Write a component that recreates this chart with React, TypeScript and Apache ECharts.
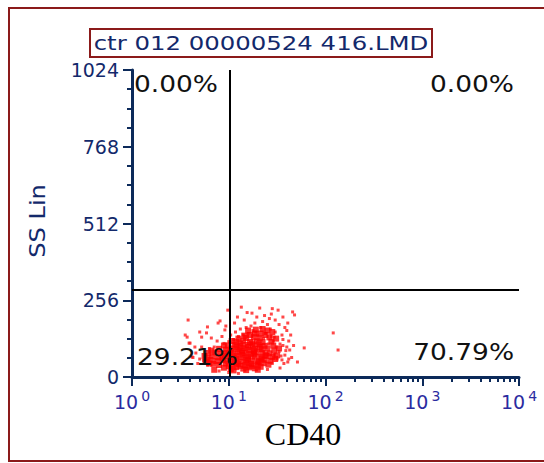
import React, { useEffect, useRef } from "react";
import * as echarts from "echarts";

const titleText = "ctr 012 00000524 416.LMD";
const xAxisTitle = "CD40";
const yAxisTitle = "SS Lin";
const xDecades = [0, 1, 2, 3, 4];
const yTicks = [0, 256, 512, 768, 1024];
const quadrantX = 1.01; // log10(CD40) of the vertical gate
const quadrantY = 290; // SS Lin of the horizontal gate
const quadrantUL = "0.00%";
const quadrantUR = "0.00%";
const quadrantLL = "29.21%";
const quadrantLR = "70.79%";

// events: [log10(CD40), SS Lin]
const corePoints: number[][] = [
  [0.85, 24], [1.05, 22], [1.18, 23], [1.3, 24],
  [0.95, 31], [1.02, 27], [1.08, 33], [1.15, 28], [1.21, 32], [1.27, 29], [1.33, 34],
  [0.84, 44], [0.9, 40], [0.97, 45], [1.04, 41], [1.1, 43], [1.17, 39], [1.23, 44], [1.3, 42], [1.36, 46], [1.41, 41],
  [0.81, 57], [0.87, 53], [0.93, 56], [0.99, 54], [1.05, 58], [1.12, 52], [1.18, 56], [1.24, 55], [1.31, 53], [1.37, 57], [1.43, 54],
  [0.83, 69], [0.89, 66], [0.96, 70], [1.02, 67], [1.08, 71], [1.14, 65], [1.2, 69], [1.27, 68], [1.33, 66], [1.39, 70], [1.45, 67],
  [0.86, 82], [0.92, 78], [0.98, 81], [1.05, 79], [1.11, 83], [1.17, 80], [1.23, 78], [1.29, 82], [1.35, 81], [1.42, 79],
  [0.9, 94], [0.97, 91], [1.03, 95], [1.09, 92], [1.15, 96], [1.21, 90], [1.27, 94], [1.34, 93], [1.4, 95],
  [0.99, 105], [1.06, 108], [1.12, 104], [1.18, 107], [1.25, 106], [1.31, 109], [1.37, 104],
  [1.08, 118], [1.15, 121], [1.22, 117], [1.29, 119], [1.35, 116],
  [1.18, 130], [1.26, 133], [1.32, 129],
  [1.0, 36], [1.12, 37], [1.24, 37], [1.06, 49], [1.18, 48], [1.3, 49], [0.94, 62], [1.08, 62], [1.2, 61], [1.34, 61],
  [1.0, 75], [1.14, 74], [1.26, 75], [1.38, 74], [1.02, 87], [1.14, 87], [1.26, 87], [1.08, 100], [1.2, 100], [1.32, 100],
  [1.12, 112], [1.24, 112],
  [0.76, 50], [0.78, 62], [0.75, 70], [0.79, 80], [0.82, 88], [0.8, 45],
  [1.48, 60], [1.5, 72], [1.47, 88], [1.52, 95], [1.46, 105], [1.44, 118], [1.49, 128], [1.42, 132], [1.38, 140],
  [1.45, 150], [1.33, 145], [1.27, 145], [1.4, 155], [1.22, 140],
  [1.03, 120], [0.95, 105], [1.1, 128], [1.16, 138], [1.28, 158], [1.35, 160], [1.2, 155],
];

const sparsePoints: number[][] = [
  [0.58, 190], [0.55, 140], [0.59, 113], [0.72, 133], [0.7, 150], [0.77, 147], [0.78, 167], [0.89, 180], [0.91, 187],
  [0.96, 157], [0.99, 223], [1.13, 233], [1.24, 213], [1.29, 200], [1.16, 190], [1.06, 180], [1.27, 180], [1.32, 230],
  [1.51, 223], [1.56, 200], [1.66, 217], [1.68, 207], [1.61, 180], [1.64, 140], [1.63, 90], [1.58, 73], [1.71, 50],
  [1.78, 97], [2.08, 147], [2.13, 90], [1.61, 50], [1.55, 57], [1.47, 133], [0.57, 133], [0.6, 113], [0.65, 100],
  [0.62, 67],
  [1.28, 150], [1.33, 165], [1.38, 145], [1.43, 160], [1.46, 120], [1.49, 100], [1.47, 75], [1.52, 85], [1.44, 135],
  [1.4, 175], [1.35, 185], [1.3, 140], [1.25, 155], [1.2, 145], [1.15, 140], [1.1, 135], [1.05, 125], [1.0, 118],
  [0.95, 112], [1.36, 128], [1.41, 110], [1.5, 60], [1.45, 45], [1.53, 110], [1.56, 125], [1.48, 150], [1.42, 195],
  [1.37, 205], [1.23, 170], [1.18, 165], [1.12, 160], [1.07, 150], [1.02, 140], [0.88, 120], [0.85, 100], [0.8, 95],
  [0.76, 75], [0.74, 55], [0.78, 40], [0.7, 60], [0.66, 80], [0.68, 45], [0.63, 65], [0.72, 100], [0.82, 130],
  [0.93, 135], [0.97, 170], [1.09, 200], [1.19, 215], [1.45, 228], [1.58, 165], [1.62, 120], [1.67, 105], [1.6, 100],
  [1.57, 45], [1.65, 65], [1.53, 30], [1.4, 25], [0.9, 20], [1.0, 15], [1.1, 12],
  [1.55, 140], [1.59, 88], [1.54, 70], [1.6, 155], [1.52, 175], [1.48, 190], [1.44, 210], [1.62, 60], [1.56, 105],
];

const NAVY = "#13296b";
const AXIS = "#0c2a5a";
const XLABEL = "#2b2ba0";
const FRAME = "#8b1a1a";

const minorX: number[] = [];
for (let d = 0; d < 4; d++) {
  for (let k = 2; k <= 9; k++) minorX.push(d + Math.log10(k));
}

export default function App() {
  const ref = useRef<HTMLDivElement>(null);
  useEffect(() => {
    if (!ref.current) return;
    const chart = echarts.init(ref.current, null, { renderer: "svg" });
    const grid = { left: 132, right: 25, top: 70, bottom: 86 };
    chart.setOption({
      animation: false,
      backgroundColor: "#ffffff",
      grid,
      xAxis: [
        {
          type: "value",
          min: xDecades[0],
          max: xDecades[xDecades.length - 1],
          interval: 1,
          position: "bottom",
          axisLine: { show: true, lineStyle: { color: AXIS, width: 3 } },
          axisTick: { show: true, customValues: minorX, length: 5, lineStyle: { color: AXIS, width: 2 } },
          splitLine: { show: false },
          axisLabel: {
            margin: 12,
            formatter: (v: number) => `{b|10}{s|${v}}`,
            rich: {
              b: { fontSize: 19, color: XLABEL, fontFamily: "DejaVu Sans" },
              s: { fontSize: 14, color: XLABEL, fontFamily: "DejaVu Sans", padding: [0, 0, 11, 3] },
            },
          },
        },
        {
          type: "value",
          min: xDecades[0],
          max: xDecades[xDecades.length - 1],
          interval: 1,
          position: "bottom",
          axisLine: { show: false },
          axisTick: { show: true, length: 9, lineStyle: { color: AXIS, width: 2 } },
          axisLabel: { show: false },
          splitLine: { show: false },
        },
      ],
      yAxis: {
        type: "value",
        min: yTicks[0],
        max: yTicks[yTicks.length - 1],
        interval: 256,
        axisLine: { show: true, lineStyle: { color: AXIS, width: 3 } },
        axisTick: { show: true, length: 9, lineStyle: { color: AXIS, width: 2 } },
        minorTick: { show: true, splitNumber: 4, length: 5, lineStyle: { color: AXIS, width: 2 } },
        splitLine: { show: false },
        minorSplitLine: { show: false },
        axisLabel: {
          margin: 13,
          color: NAVY,
          fontSize: 19,
          fontFamily: "DejaVu Sans",
          formatter: (v: number) => String(v),
        },
      },
      series: [
        {
          type: "scatter",
          data: sparsePoints,
          symbol: "rect",
          symbolSize: 3,
          itemStyle: { color: "#ff1a1a" },
          silent: true,
        },
        {
          type: "scatter",
          data: corePoints,
          symbol: "rect",
          symbolSize: 6,
          itemStyle: { color: "#ff0000" },
          silent: true,
          markLine: {
            silent: true,
            symbol: ["none", "none"],
            label: { show: false },
            lineStyle: { color: "#000000", width: 2, type: "solid" },
            data: [{ xAxis: quadrantX }, { yAxis: quadrantY }],
          },
        },
      ],
      graphic: [
        {
          type: "rect",
          shape: { x: 9, y: 8, width: 560, height: 453 },
          style: { fill: "none", stroke: FRAME, lineWidth: 2 },
          z: 0,
        },
        {
          type: "rect",
          shape: { x: 90, y: 29, width: 342, height: 28 },
          style: { fill: "#ffffff", stroke: FRAME, lineWidth: 2 },
          z: 10,
        },
        {
          type: "text",
          x: 261,
          y: 43,
          scaleX: 1.22,
          style: { text: titleText, fontSize: 20, fontFamily: "DejaVu Sans", fill: NAVY, align: "center", verticalAlign: "middle" },
          z: 11,
        },
        {
          type: "text",
          x: 38,
          y: 221,
          rotation: Math.PI / 2,
          scaleX: 1.15,
          style: { text: yAxisTitle, fontSize: 21, fontFamily: "DejaVu Sans", fill: NAVY, align: "center", verticalAlign: "middle" },
          z: 11,
        },
        {
          type: "text",
          x: 303,
          y: 434,
          style: { text: xAxisTitle, fontSize: 32, fontFamily: "Liberation Serif", fill: "#000000", align: "center", verticalAlign: "middle" },
          z: 11,
        },
        {
          type: "text",
          x: 134,
          y: 84,
          scaleX: 1.15,
          style: { text: quadrantUL, fontSize: 23, fontFamily: "DejaVu Sans", fill: "#111111", align: "left", verticalAlign: "middle" },
          z: 20,
        },
        {
          type: "text",
          x: 514,
          y: 84,
          scaleX: 1.15,
          style: { text: quadrantUR, fontSize: 23, fontFamily: "DejaVu Sans", fill: "#111111", align: "right", verticalAlign: "middle" },
          z: 20,
        },
        {
          type: "text",
          x: 137,
          y: 357,
          scaleX: 1.15,
          style: { text: quadrantLL, fontSize: 23, fontFamily: "DejaVu Sans", fill: "#111111", align: "left", verticalAlign: "middle" },
          z: 20,
        },
        {
          type: "text",
          x: 514,
          y: 352,
          scaleX: 1.15,
          style: { text: quadrantLR, fontSize: 23, fontFamily: "DejaVu Sans", fill: "#111111", align: "right", verticalAlign: "middle" },
          z: 20,
        },
      ],
    });
    return () => chart.dispose();
  }, []);
  return <div ref={ref} style={{ width: 544, height: 463, position: "absolute", left: 0, top: 0 }} />;
}
